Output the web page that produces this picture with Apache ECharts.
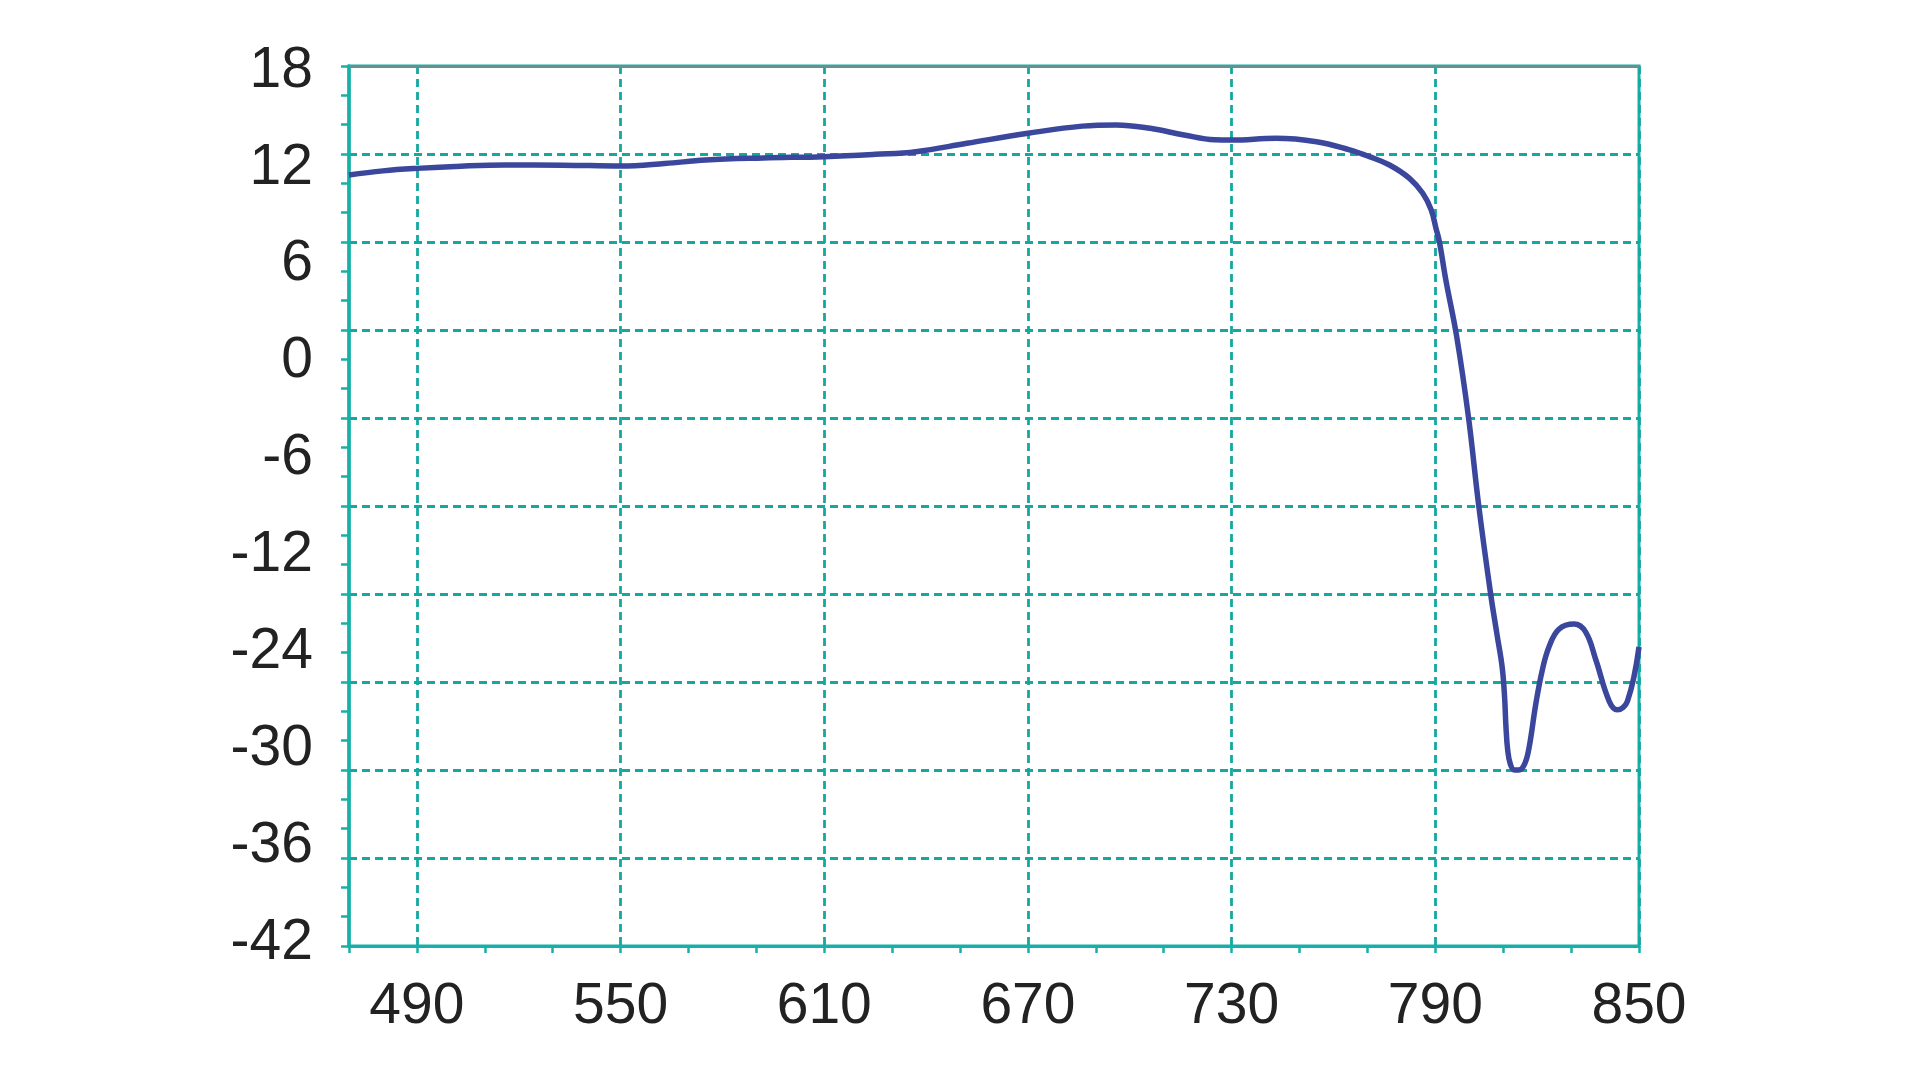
<!DOCTYPE html>
<html>
<head>
<meta charset="utf-8">
<script src="https://cdn.jsdelivr.net/npm/echarts@6/dist/echarts.min.js"></script>
<style>
html,body{margin:0;padding:0;background:#fff;}
#chart{width:1920px;height:1080px;}
</style>
</head>
<body>
<div id="chart"></div>
<script>
// Wavelength (nm) and gain (dB)
var wavelength = [470, 480, 490, 503, 516, 533, 550, 563, 575, 592, 610, 625, 637, 652, 670, 686, 696, 706, 716, 725, 730, 743, 755, 764.5, 770.6, 776.5, 782.4, 786.3, 788.8, 790.2, 791.2, 793.1, 796.3, 799.8, 802.8, 806.3, 808.2, 809.7, 810.4, 810.8, 811.3, 812.1, 813.3, 814.6, 816.3, 817.6, 819.6, 821.5, 823.5, 826.4, 830.9, 834.3, 837.3, 841.2, 843.6, 846.6, 850];
var gain = [10.57, 10.85, 11.02, 11.17, 11.25, 11.24, 11.18, 11.35, 11.59, 11.73, 11.82, 11.98, 12.16, 12.73, 13.41, 13.9, 13.98, 13.75, 13.3, 12.97, 12.95, 13.07, 12.84, 12.3, 11.82, 11.25, 10.34, 9.32, 8.18, 6.93, 6.02, 3.41, -0.45, -6, -12, -18, -20.8, -23, -25, -27, -28.6, -29.6, -30, -30, -29.6, -28.5, -25.5, -23.2, -21.6, -20.4, -20.05, -20.6, -22.5, -25.3, -25.9, -25.3, -21.6];
// Axis ticks and tick labels as printed on the reference
var xTickValues = ['470', '490', '510', '530', '550', '570', '590', '610', '630', '650', '670', '690', '710', '730', '750', '770', '790', '810', '830', '850'];
var xTickLabels = ['490', '550', '610', '670', '730', '790', '850'];
var yTickLabels = ['18', '12', '6', '0', '-6', '-12', '-24', '-30', '-36', '-42'];

var XMIN = 470, XMAX = 850, YMIN = -42, YMAX = 18;
var TEAL = '#17b0a8', GRIDC = '#14a8a0', LINEC = '#3a479c';
var FONT = 'Liberation Sans, Arial, sans-serif';

var seriesData = wavelength.map(function (w, i) { return [w, gain[i]]; });
function isLabelled(index, value) { return xTickLabels.indexOf(String(value)) >= 0; }

var chart = echarts.init(document.getElementById('chart'));
chart.setOption({
  backgroundColor: '#ffffff',
  animation: false,
  grid: [
    {
      left: 349, right: 281, top: 66, bottom: 134,
      show: true, borderColor: TEAL, borderWidth: 3, backgroundColor: 'transparent',
      containLabel: false, outerBoundsMode: 'none'
    },
    {
      left: 349, right: 281, top: 71, bottom: 137, show: false,
      containLabel: false, outerBoundsMode: 'none'
    }
  ],
  xAxis: [
    {
      // ticks, grid lines and labels
      type: 'category', gridIndex: 0, position: 'bottom', boundaryGap: false,
      data: xTickValues,
      axisLine: { show: true, onZero: false, lineStyle: { color: TEAL, width: 3 } },
      axisTick: { show: true, interval: 0, length: 7, lineStyle: { color: TEAL, width: 2.5 } },
      splitLine: { show: true, interval: isLabelled, lineStyle: { color: GRIDC, width: 2.8, type: [8, 5] } },
      axisLabel: {
        show: true, interval: isLabelled, margin: 33, fontSize: 57, color: '#222', fontFamily: FONT
      }
    },
    {
      // data axis
      type: 'value', gridIndex: 0, position: 'bottom', min: XMIN, max: XMAX,
      axisLine: { show: false, onZero: false }, axisTick: { show: false },
      splitLine: { show: false }, axisLabel: { show: false }
    },
    {
      // top border
      type: 'value', gridIndex: 0, position: 'top', min: XMIN, max: XMAX,
      axisLine: { show: true, onZero: false, lineStyle: { color: '#6e8e8c', width: 3 } },
      axisTick: { show: false }, splitLine: { show: false }, axisLabel: { show: false }
    },
    {
      type: 'value', gridIndex: 1, min: XMIN, max: XMAX, show: false
    }
  ],
  yAxis: [
    {
      type: 'value', gridIndex: 0, position: 'left', min: YMIN, max: YMAX, interval: 6,
      axisLine: { show: true, onZero: false, lineStyle: { color: TEAL, width: 3.5 } },
      axisTick: { show: false },
      splitLine: { show: true, lineStyle: { color: GRIDC, width: 2.8, type: [8, 5] } },
      axisLabel: { show: false }
    },
    {
      type: 'value', gridIndex: 0, position: 'left', min: YMIN, max: YMAX, interval: 2,
      axisLine: { show: false, onZero: false },
      axisTick: { show: true, length: 8, lineStyle: { color: TEAL, width: 2.5 } },
      splitLine: { show: false },
      axisLabel: { show: false }
    },
    {
      type: 'value', gridIndex: 1, position: 'left', min: 0, max: yTickLabels.length - 1, interval: 1,
      axisLine: { show: false, onZero: false }, axisTick: { show: false }, splitLine: { show: false },
      axisLabel: {
        show: true, margin: 36, fontSize: 57, color: '#222', fontFamily: FONT,
        formatter: function (v) { return yTickLabels[yTickLabels.length - 1 - Math.round(v)]; }
      }
    }
  ],
  series: [
    {
      type: 'line', xAxisIndex: 1, yAxisIndex: 0,
      data: seriesData, smooth: 0.4, showSymbol: false, symbol: 'none',
      lineStyle: { color: LINEC, width: 5.5 }
    }
  ]
});
</script>
</body>
</html>
